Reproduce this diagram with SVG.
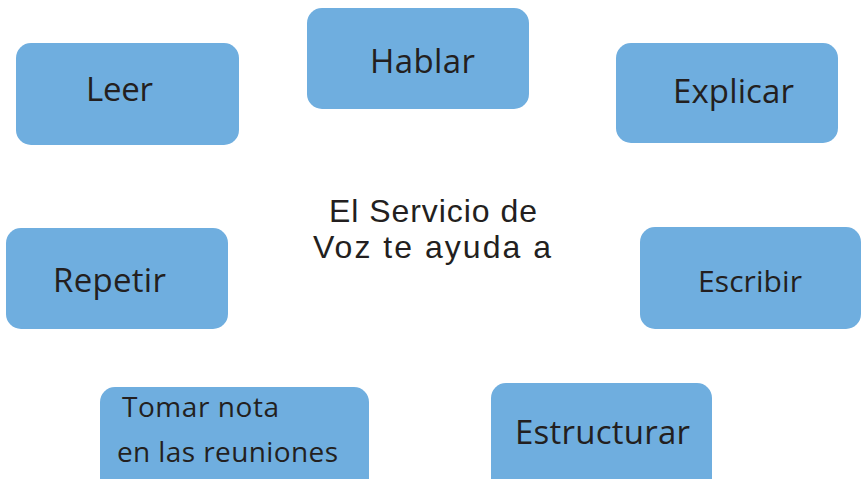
<svg xmlns="http://www.w3.org/2000/svg" width="861" height="479" viewBox="0 0 861 479">
<style>
.box{fill:#6FAEDF;}
text{font-family:"Open Sans","Noto Sans","Liberation Sans",sans-serif;fill:#231F20;font-size:33px;}
.s{font-size:30px;}
.t{font-size:28px;}
.c{font-family:"Liberation Sans","Arial",sans-serif;font-size:32px;}
</style>
<rect width="861" height="479" fill="#FFFFFF"/>
<g id="node-leer"><rect class="box" x="16" y="43" width="223" height="102" rx="15"/><text x="86" y="101" textLength="67">Leer</text></g>
<g id="node-hablar"><rect class="box" x="307" y="8" width="222" height="101" rx="15"/><text x="370" y="73" textLength="105">Hablar</text></g>
<g id="node-explicar"><rect class="box" x="616" y="43" width="222" height="100" rx="15"/><text x="673" y="103" textLength="121">Explicar</text></g>
<g id="node-repetir"><rect class="box" x="6" y="228" width="222" height="101" rx="15"/><text x="53" y="292" textLength="113">Repetir</text></g>
<g id="node-escribir"><rect class="box" x="640" y="227" width="221" height="102" rx="15"/><text class="s" x="698" y="292" textLength="104">Escribir</text></g>
<g id="node-tomar"><rect class="box" x="100" y="387" width="269" height="110" rx="15"/><text class="t" x="122" y="417" textLength="157">Tomar nota</text><text class="t" x="117" y="462" textLength="221">en las reuniones</text></g>
<g id="node-estructurar"><rect class="box" x="491" y="383" width="221" height="114" rx="15"/><text x="515" y="444" textLength="175">Estructurar</text></g>
<g id="center"><text class="c" x="329" y="222" textLength="208">El Servicio de</text><text class="c" x="313" y="258" textLength="238">Voz te ayuda a</text></g>
<g id="connectors"></g>
</svg>
